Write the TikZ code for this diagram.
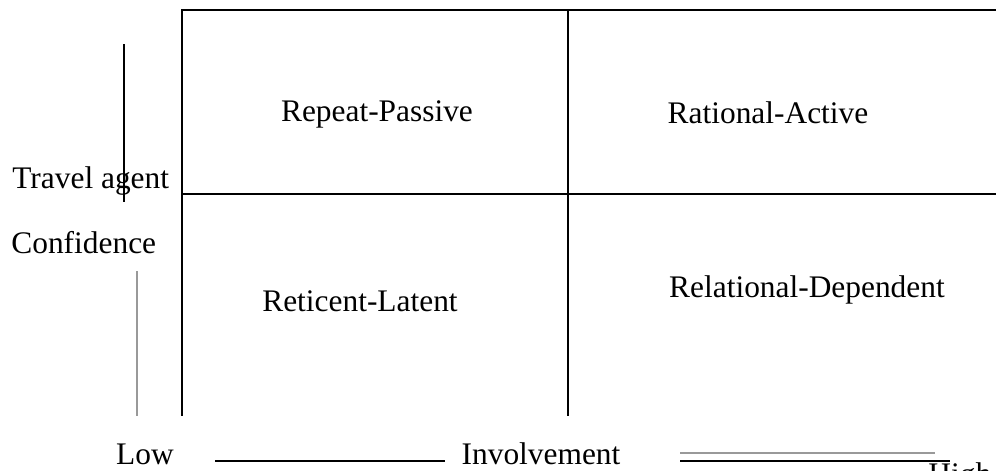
\documentclass[tikz,border=0pt]{standalone}
\usepackage{fontspec}
\setmainfont{Liberation Serif}
\begin{document}
\begin{tikzpicture}[x=0.5pt,y=-0.5pt,
  grid/.style={line width=1.2pt,black},
  axisline/.style={line width=1.2pt,black},
  greyline/.style={line width=1.2pt,gray!80},
  lbl/.style={inner sep=0pt,font=\fontsize{15.7pt}{18pt}\selectfont}]
\clip (0,0) rectangle (996,471);
\useasboundingbox (0,0) rectangle (996,471);
% grid
\coordinate (tl) at (182,10);
\coordinate (tr) at (996,10);
\coordinate (bl) at (182,416);
\coordinate (tm) at (568,10);
\coordinate (bm) at (568,416);
\coordinate (ml) at (182,194);
\coordinate (mr) at (996,194);
\draw[grid] (tr) -- (tl) -- (bl);
\draw[grid] (tm) -- (bm);
\draw[grid] (ml) -- (mr);
% quadrant labels
\node[lbl] (rp) at (377,114) {Repeat-Passive};
\node[lbl] (ra) at (768,113) {Rational-Active};
\node[lbl] (rl) at (360,301) {Reticent-Latent};
\node[lbl] (rd) at (807,290) {Relational-Dependent};
% vertical axis
\node[lbl,anchor=base west] (ta) at (12,188) {Travel agent};
\node[lbl,anchor=west] (conf) at (11,243) {Confidence};
\coordinate (a1) at (124,44);
\coordinate (a2) at (124,202);
\draw[axisline] (a1) -- (a2);
\coordinate (g1) at (137,271);
\coordinate (g2) at (137,416);
\draw[greyline] (g1) -- (g2);
% horizontal axis
\node[lbl] (low) at (145,454) {Low};
\node[lbl] (inv) at (541,454) {Involvement};
\coordinate (h1) at (215,461);
\coordinate (h2) at (445,461);
\draw[axisline] (h1) -- (h2);
\coordinate (d1) at (680,453);
\coordinate (d2) at (935,453);
\draw[greyline] (d1) -- (d2);
\coordinate (e1) at (680,461);
\coordinate (e2) at (950,461);
\draw[axisline] (e1) -- (e2);
\node[lbl,anchor=north west] (high) at (928,462) {High};
\end{tikzpicture}
\end{document}
